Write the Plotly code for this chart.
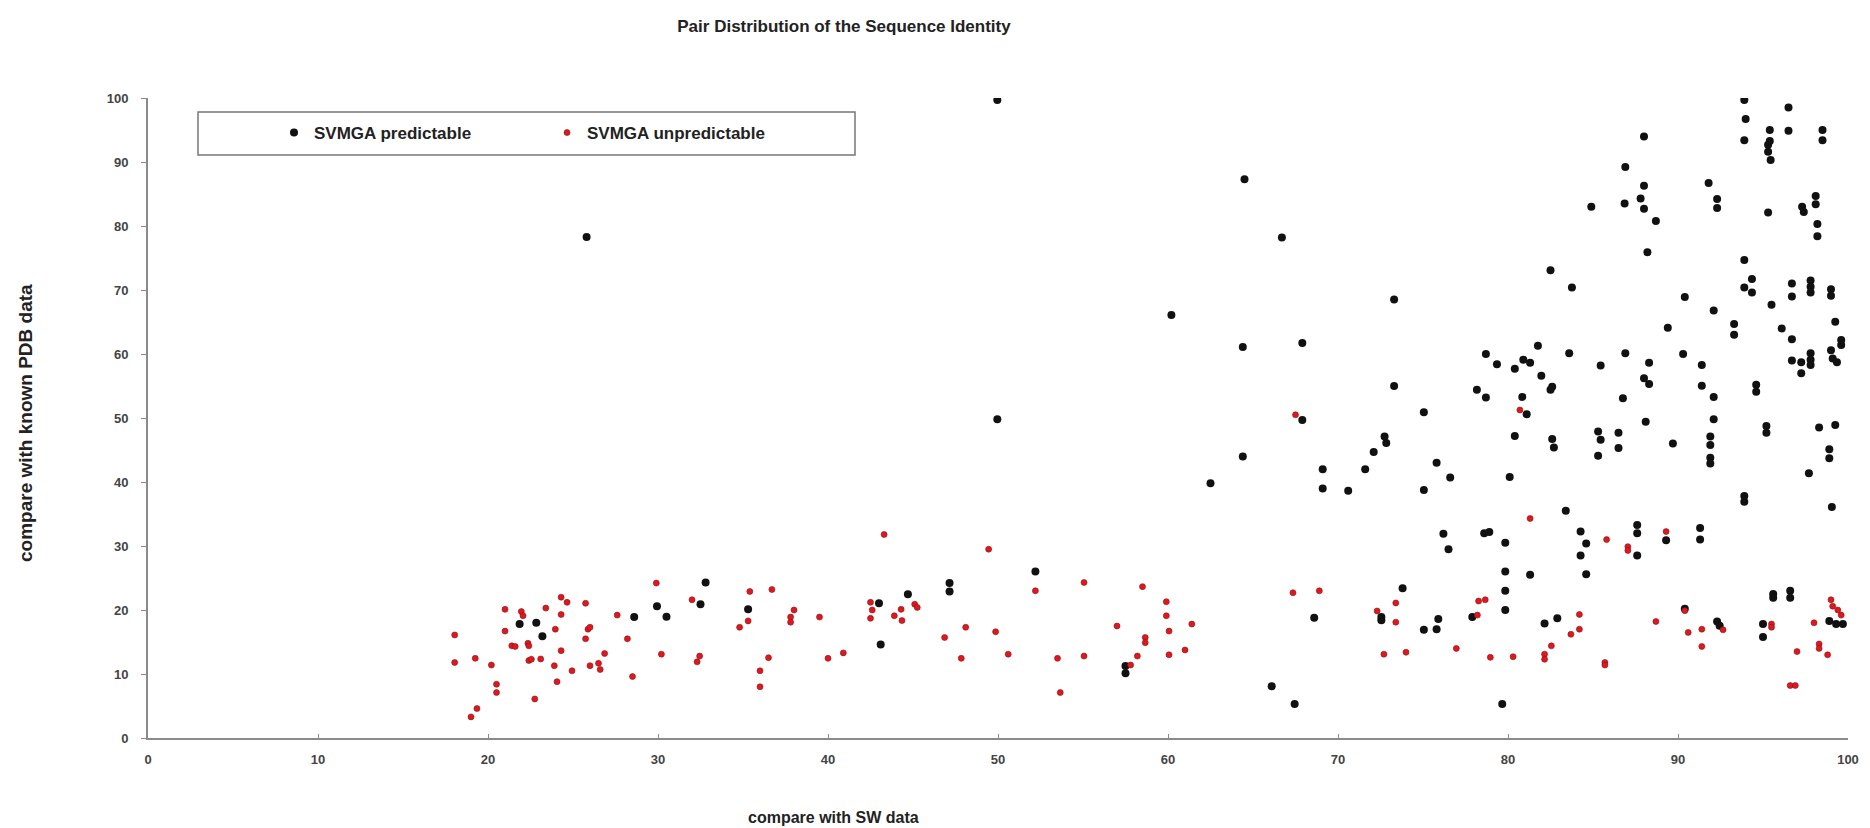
import plotly.graph_objects as go

# SVMGA predictable (black)
pred_x = [21.86, 22.84, 23.2, 25.8, 28.6, 29.94, 30.5, 32.5, 32.8,
          35.3, 43.0, 43.1, 44.7, 47.15, 47.15,
          49.96, 49.96, 52.2, 57.5, 57.5, 60.2, 62.5, 64.4, 64.4, 64.5, 66.1,
          67.45, 68.6, 72.55, 72.55, 73.8, 75.05, 75.8, 75.9, 76.2, 76.5, 77.9, 78.6, 78.9,
          79.84, 79.84, 79.84, 79.84, 79.66, 81.3, 82.15, 82.9,
          83.4, 84.27, 84.6, 84.27, 84.6, 87.6, 87.6, 87.6, 89.3, 91.3, 91.3, 90.4, 92.3, 92.45,
          95.6, 95.6, 96.6, 96.6, 95.0, 95.0, 98.9, 99.3, 99.7,
          66.7, 67.9, 67.9, 73.3, 73.3, 75.05, 72.74, 72.84, 72.1, 71.6, 69.1, 69.1, 70.6, 75.05,
          75.8, 76.6, 80.1, 80.4, 78.17, 78.7, 78.7, 79.35, 80.4, 80.9, 81.3, 81.76, 81.96, 82.5,
          82.6, 80.84, 81.1, 82.6, 82.7, 82.5,
          93.9, 93.98, 93.9, 95.4, 95.4, 95.3, 95.3, 95.45, 96.5, 96.5, 98.5, 98.5, 88.0, 86.9,
          88.0, 87.8, 88.0, 86.86, 84.9, 88.7, 88.2, 91.8, 92.3, 92.3, 95.3, 97.3, 97.4, 98.1,
          98.1, 98.2, 98.2, 83.76, 93.9, 94.35, 93.9, 94.35, 96.7, 96.7, 97.8, 97.8, 97.8, 99.0,
          99.0, 90.4,
          95.5, 92.1, 93.3, 93.3, 89.4, 96.1, 96.7, 99.25, 99.6, 99.6, 99.0, 99.1, 99.35, 96.7,
          97.25, 97.8, 97.8, 97.8, 97.25, 83.6, 86.9, 85.45, 88.3, 90.3, 91.4, 88.0, 88.3, 86.76,
          91.4, 92.1, 94.6, 94.6, 92.1, 88.1, 95.2, 95.2, 98.3, 99.25, 85.3, 85.45, 86.5, 86.5,
          85.3, 89.7, 91.9, 91.9, 91.9, 91.9, 98.9, 98.9, 97.7, 93.9, 93.9, 99.05]
pred_y = [17.8, 18.0, 15.9, 78.3, 18.9, 20.6, 18.96, 20.9, 24.3,
          20.1, 21.05, 14.6, 22.45, 24.2, 22.9,
          99.7, 49.8, 26.0, 11.25, 10.1, 66.1, 39.8, 61.1, 44.0, 87.3, 8.1,
          5.3, 18.8, 18.9, 18.4, 23.4, 16.9, 17.0, 18.6, 31.9, 29.5, 18.9, 32.0, 32.2,
          30.5, 26.0, 23.0, 20.0, 5.3, 25.5, 17.9, 18.7,
          35.5, 32.25, 30.4, 28.5, 25.6, 33.3, 32.0, 28.5, 30.9, 32.8, 31.0, 20.2, 18.2, 17.55,
          22.5, 21.9, 23.0, 21.9, 17.8, 15.8, 18.3, 17.8, 17.8,
          78.2, 61.7, 49.7, 68.5, 55.0, 50.9, 47.1, 46.1, 44.7, 42.0, 42.0, 39.0, 38.65, 38.75,
          43.0, 40.7, 40.8, 47.2, 54.4, 53.2, 60.0, 58.4, 57.7, 59.1, 58.65, 61.3, 56.6, 54.4,
          54.9, 53.3, 50.6, 46.7, 45.4, 73.1,
          99.7, 96.7, 93.4, 95.0, 93.3, 92.7, 91.6, 90.3, 98.5, 94.9, 95.0, 93.4, 94.0, 89.2,
          86.3, 84.3, 82.7, 83.5, 83.0, 80.8, 75.9, 86.7, 84.2, 82.8, 82.1, 83.0, 82.2, 84.7,
          83.4, 80.3, 78.4, 70.4, 74.7, 71.7, 70.4, 69.6, 71.0, 69.0, 71.5, 70.5, 69.6, 70.1,
          69.1, 68.9,
          67.7, 66.8, 64.7, 63.0, 64.1, 64.0, 62.3, 65.05, 62.2, 61.4, 60.6, 59.3, 58.7, 59.0,
          58.7, 60.1, 59.1, 58.3, 57.0, 60.1, 60.1, 58.2, 58.65, 60.0, 58.3, 56.2, 55.3, 53.1,
          55.05, 53.3, 55.2, 54.1, 49.8, 49.4, 48.75, 47.7, 48.5, 48.9, 47.9, 46.6, 47.7, 45.3,
          44.1, 46.0, 47.1, 45.8, 43.8, 42.9, 45.1, 43.7, 41.35, 37.8, 36.9, 36.1]

# SVMGA unpredictable (red)
unpred_x = [18.04, 18.04, 19.25, 19.0, 19.35, 20.2, 20.5, 20.5, 21.0, 21.0, 21.4, 21.6, 21.96,
            22.06, 22.35, 22.4, 22.4, 22.55, 22.75, 23.1, 23.4, 23.96, 23.9, 24.06, 24.3, 24.3,
            24.3, 24.65, 24.94, 25.74, 25.74, 25.88, 26.0, 26.0, 26.5, 26.6, 26.86, 27.6, 28.2,
            28.5, 29.9, 30.2, 32.0, 32.45, 32.3,
            35.4, 36.7, 35.3, 34.8, 36.5, 36.0, 36.0, 38.0, 37.8, 37.8, 39.5, 40.0, 40.9, 43.3,
            42.5, 42.6, 42.5, 43.9, 44.3, 44.35, 45.1, 45.25, 46.86, 48.1, 47.84, 49.45, 49.86,
            52.2, 50.6, 55.06, 53.5, 55.06, 53.66, 57.0, 58.5, 58.2, 58.66, 58.66, 57.8, 59.9,
            59.9, 60.06, 60.06, 61.0, 61.4,
            67.35, 68.9, 72.3, 73.4, 73.4, 72.7, 74.0, 76.96, 78.2, 78.27, 78.66, 78.96, 80.3,
            81.3, 82.55, 82.15, 82.15, 67.5, 80.7,
            85.8, 87.05, 87.05, 89.3, 84.2, 84.2, 83.7, 85.7, 85.7, 88.7, 90.4, 90.6, 91.4, 91.4,
            92.65, 95.5, 95.5, 98.0, 97.0, 98.3, 98.3, 98.8, 96.6, 96.9, 99.0, 99.1, 99.4, 99.6]
unpred_y = [16.1, 11.8, 12.45, 3.3, 4.6, 11.4, 8.4, 7.1, 20.1, 16.7, 14.4, 14.3, 19.75,
            19.1, 14.8, 14.4, 12.1, 12.3, 6.1, 12.35, 20.3, 17.0, 11.3, 8.8, 22.0, 19.3,
            13.65, 21.2, 10.5, 21.05, 15.5, 17.0, 17.3, 11.3, 11.67, 10.7, 13.2, 19.2, 15.5,
            9.6, 24.2, 13.1, 21.6, 12.8, 11.9,
            22.9, 23.2, 18.3, 17.3, 12.55, 10.5, 8.0, 20.0, 18.9, 18.1, 18.9, 12.45, 13.3, 31.8,
            21.2, 20.0, 18.7, 19.1, 20.1, 18.35, 20.9, 20.4, 15.7, 17.3, 12.45, 29.5, 16.6,
            23.0, 13.1, 24.3, 12.45, 12.8, 7.1, 17.5, 23.65, 12.8, 15.7, 14.9, 11.4, 21.3,
            19.1, 16.7, 13.0, 13.75, 17.8,
            22.7, 23.0, 19.85, 21.1, 18.1, 13.1, 13.4, 14.0, 19.2, 21.4, 21.6, 12.6, 12.7,
            34.3, 14.4, 13.1, 12.3, 50.5, 51.25,
            31.0, 29.9, 29.3, 32.25, 19.3, 17.0, 16.2, 11.8, 11.4, 18.2, 19.9, 16.5, 17.0, 14.3,
            16.9, 17.8, 17.3, 18.0, 13.5, 14.7, 14.0, 13.0, 8.2, 8.2, 21.6, 20.6, 20.0, 19.2]

x_ticks = [0, 10, 20, 30, 40, 50, 60, 70, 80, 90, 100]
y_ticks = [0, 10, 20, 30, 40, 50, 60, 70, 80, 90, 100]

FONT = "Arial, Liberation Sans, sans-serif"

# page is rendered with an 8px body margin: work in page pixels, convert
OFF = 8
PAGE_W, PAGE_H = 1870, 828
W, H = PAGE_W - OFF, PAGE_H - OFF
PX0, PX1 = 148, 1848      # page x of x=0 and x=100
PY0, PY1 = 738, 98        # page y of y=0 and y=100
L = PX0 - OFF
R = W - (PX1 - OFF)
T = PY1 - OFF
B = H - (PY0 - OFF)
pw, ph = PX1 - PX0, PY0 - PY1


def px(xp):
    return (xp - PX0) / pw


def py(yp):
    return (PY0 - yp) / ph


fig = go.Figure()
fig.add_trace(go.Scatter(
    x=pred_x, y=pred_y, mode="markers", name="<b>SVMGA predictable</b>",
    marker=dict(color="#111111", size=8, line=dict(width=0)),
))
fig.add_trace(go.Scatter(
    x=unpred_x, y=unpred_y, mode="markers", name="<b>SVMGA unpredictable</b>",
    marker=dict(color="#e3161e", size=6, line=dict(width=0.6, color="#7a1a1a")),
))

fig.add_shape(type="rect", xref="paper", yref="paper",
              x0=px(198), x1=px(855), y0=py(155), y1=py(112),
              line=dict(color="#777777", width=1.5), fillcolor="rgba(0,0,0,0)")

fig.add_annotation(text="<b>compare with SW data</b>", xref="paper", yref="paper",
                   x=px(833), y=py(817), xanchor="center", yanchor="middle", showarrow=False,
                   font=dict(family=FONT, size=16, color="#222222"))
fig.add_annotation(text="<b>compare with known PDB data</b>", xref="paper", yref="paper",
                   x=px(25), y=py(423), xanchor="center", yanchor="middle", showarrow=False,
                   textangle=-90,
                   font=dict(family=FONT, size=19, color="#222222"))

fig.update_layout(
    width=W, height=H,
    margin=dict(l=L, r=R, t=T, b=B, pad=0),
    paper_bgcolor="white", plot_bgcolor="white",
    title=dict(text="<b>Pair Distribution of the Sequence Identity</b>",
               xref="paper", x=px(844), xanchor="center",
               yref="container", y=1 - (26 - OFF) / H, yanchor="middle",
               font=dict(family=FONT, size=17, color="#222222")),
    font=dict(family=FONT, color="#333333"),
    showlegend=True,
    legend=dict(orientation="h", x=px(274), y=py(133), xanchor="left", yanchor="middle",
                bgcolor="rgba(0,0,0,0)", borderwidth=0,
                entrywidth=228, entrywidthmode="pixels", itemsizing="trace",
                font=dict(family=FONT, size=17, color="#222222")),
    xaxis=dict(range=[0, 100], tickvals=x_ticks, ticktext=[f"<b>{v}</b>" for v in x_ticks],
               showgrid=False, zeroline=False, showline=True, linecolor="#8a8a8a", linewidth=2,
               ticks="inside", ticklen=4, tickcolor="#8a8a8a", ticklabelstandoff=8,
               tickfont=dict(family=FONT, size=13, color="#444444")),
    yaxis=dict(range=[0, 100], tickvals=y_ticks, ticktext=[f"<b>{v}</b>" for v in y_ticks],
               showgrid=False, zeroline=False, showline=True, linecolor="#8a8a8a", linewidth=2,
               ticks="outside", ticklen=5, tickcolor="#8a8a8a", ticklabelstandoff=10,
               tickfont=dict(family=FONT, size=13, color="#444444")),
)

fig.write_html("out.html")
